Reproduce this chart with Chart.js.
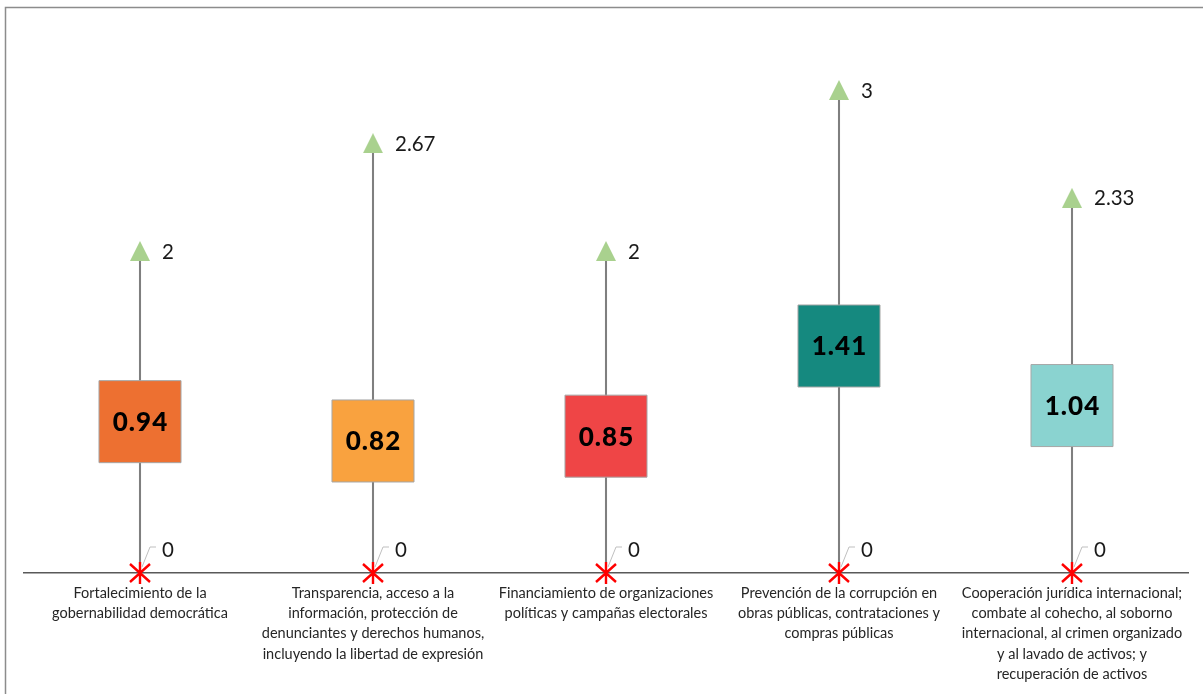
<!DOCTYPE html>
<html>
<head>
<meta charset="utf-8">
<script src="https://cdn.jsdelivr.net/npm/chart.js@4/dist/chart.umd.min.js"></script>
<style>
  html, body { margin: 0; padding: 0; background: #ffffff; }
  #wrap { width: 1203px; height: 694px; position: relative; }
</style>
</head>
<body>
<div id="wrap"><canvas id="chart" width="1203" height="694"></canvas></div>
<script>
// Categories (multi-line axis labels)
const categories = [
  ["Fortalecimiento de la", "gobernabilidad democrática"],
  ["Transparencia, acceso a la", "información, protección de", "denunciantes y derechos humanos,", "incluyendo la libertad de expresión"],
  ["Financiamiento de organizaciones", "políticas y campañas electorales"],
  ["Prevención de la corrupción en", "obras públicas, contrataciones y", "compras públicas"],
  ["Cooperación jurídica internacional;", "combate al cohecho, al soborno", "internacional, al crimen organizado", "y al lavado de activos; y", "recuperación de activos"]
];
const meanValues = [0.94, 0.82, 0.85, 1.41, 1.04];
const maxValues = [2, 2.67, 2, 3, 2.33];
const minValues = [0, 0, 0, 0, 0];
const boxColors = ["#ED7031", "#F9A23F", "#EF4546", "#15897F", "#8AD3D0"];

// Marker images
function triangleMarker() {
  const c = document.createElement('canvas');
  c.width = 20; c.height = 20;
  const g = c.getContext('2d');
  g.fillStyle = '#A9D18E';
  g.beginPath();
  g.moveTo(10, 0); g.lineTo(20, 20); g.lineTo(0, 20); g.closePath();
  g.fill();
  return c;
}
function starMarker() {
  const c = document.createElement('canvas');
  c.width = 24; c.height = 22;
  const g = c.getContext('2d');
  g.strokeStyle = '#FF0000';
  g.lineWidth = 2.4;
  g.beginPath();
  g.moveTo(2, 2); g.lineTo(22, 20);
  g.moveTo(22, 2); g.lineTo(2, 20);
  g.moveTo(12, 0); g.lineTo(12, 22);
  g.stroke();
  return c;
}

const FONT = "Lato, 'Open Sans', sans-serif";

const frameAndLabels = {
  id: 'frameAndLabels',
  beforeDraw(chart) {
    const ctx = chart.ctx;
    ctx.save();
    ctx.strokeStyle = '#8C8C8C';
    ctx.lineWidth = 1.5;
    ctx.beginPath();
    ctx.moveTo(5.5, chart.height);
    ctx.lineTo(5.5, 7.5);
    ctx.lineTo(chart.width, 7.5);
    ctx.stroke();
    ctx.restore();
  },
  afterDatasetsDraw(chart) {
    const ctx = chart.ctx;
    const boxMeta = chart.getDatasetMeta(1);
    const maxMeta = chart.getDatasetMeta(2);
    const minMeta = chart.getDatasetMeta(3);
    ctx.save();
    // mean values inside the boxes
    ctx.fillStyle = '#000000';
    ctx.textAlign = 'center';
    ctx.textBaseline = 'middle';
    ctx.font = "900 26px " + FONT;
    ctx.letterSpacing = '1px';
    boxMeta.data.forEach((pt, i) => {
      ctx.fillText(meanValues[i].toFixed(2), pt.x + 0.5, pt.y + 1);
    });
    ctx.letterSpacing = '0px';
    // maximum values
    ctx.font = "20.5px " + FONT;
    ctx.textAlign = 'left';
    ctx.fillStyle = '#1a1a1a';
    maxMeta.data.forEach((pt, i) => {
      ctx.fillText(String(maxValues[i]), pt.x + 22, pt.y + 1);
    });
    // minimum values with leader lines
    minMeta.data.forEach((pt, i) => {
      ctx.strokeStyle = '#BFBFBF';
      ctx.lineWidth = 1;
      ctx.beginPath();
      ctx.moveTo(pt.x + 2, pt.y - 6);
      ctx.lineTo(pt.x + 10, pt.y - 26);
      ctx.lineTo(pt.x + 16, pt.y - 26);
      ctx.stroke();
      ctx.fillStyle = '#1a1a1a';
      ctx.fillText(String(minValues[i]), pt.x + 22, pt.y - 23);
    });
    ctx.restore();
  }
};

new Chart(document.getElementById('chart'), {
  type: 'bar',
  data: {
    labels: categories,
    datasets: [
      {
        // stems from minimum to maximum
        type: 'bar',
        data: minValues.map((v, i) => [v, maxValues[i]]),
        backgroundColor: '#7F7F7F',
        barThickness: 1.4,
        order: 10
      },
      {
        type: 'line',
        data: meanValues,
        showLine: false,
        clip: false,
        pointStyle: 'rect',
        pointRadius: 58,
        pointHoverRadius: 58,
        pointBackgroundColor: boxColors,
        pointBorderColor: '#A6A6A6',
        pointBorderWidth: 1,
        order: 3
      },
      {
        type: 'line',
        data: maxValues,
        showLine: false,
        clip: false,
        pointStyle: triangleMarker(),
        order: 2
      },
      {
        type: 'line',
        data: minValues,
        showLine: false,
        clip: false,
        pointStyle: starMarker(),
        order: 1
      }
    ]
  },
  options: {
    responsive: false,
    animation: false,
    events: [],
    layout: { autoPadding: false, padding: { left: 23.5, right: 14.5, top: 9.5, bottom: 0 } },
    plugins: { legend: { display: false }, tooltip: { enabled: false } },
    scales: {
      x: {
        offset: true,
        grid: { display: false, drawTicks: false },
        border: { display: true, color: '#595959', width: 1.4 },
        ticks: {
          color: '#262626',
          font: { family: FONT, size: 14.5, lineHeight: 1.4 },
          padding: 10,
          maxRotation: 0,
          autoSkip: false
        },
        afterFit(scale) { scale.height = 121; }
      },
      y: {
        display: false,
        min: 0,
        max: 3.5
      }
    }
  },
  plugins: [frameAndLabels]
});
</script>
</body>
</html>
